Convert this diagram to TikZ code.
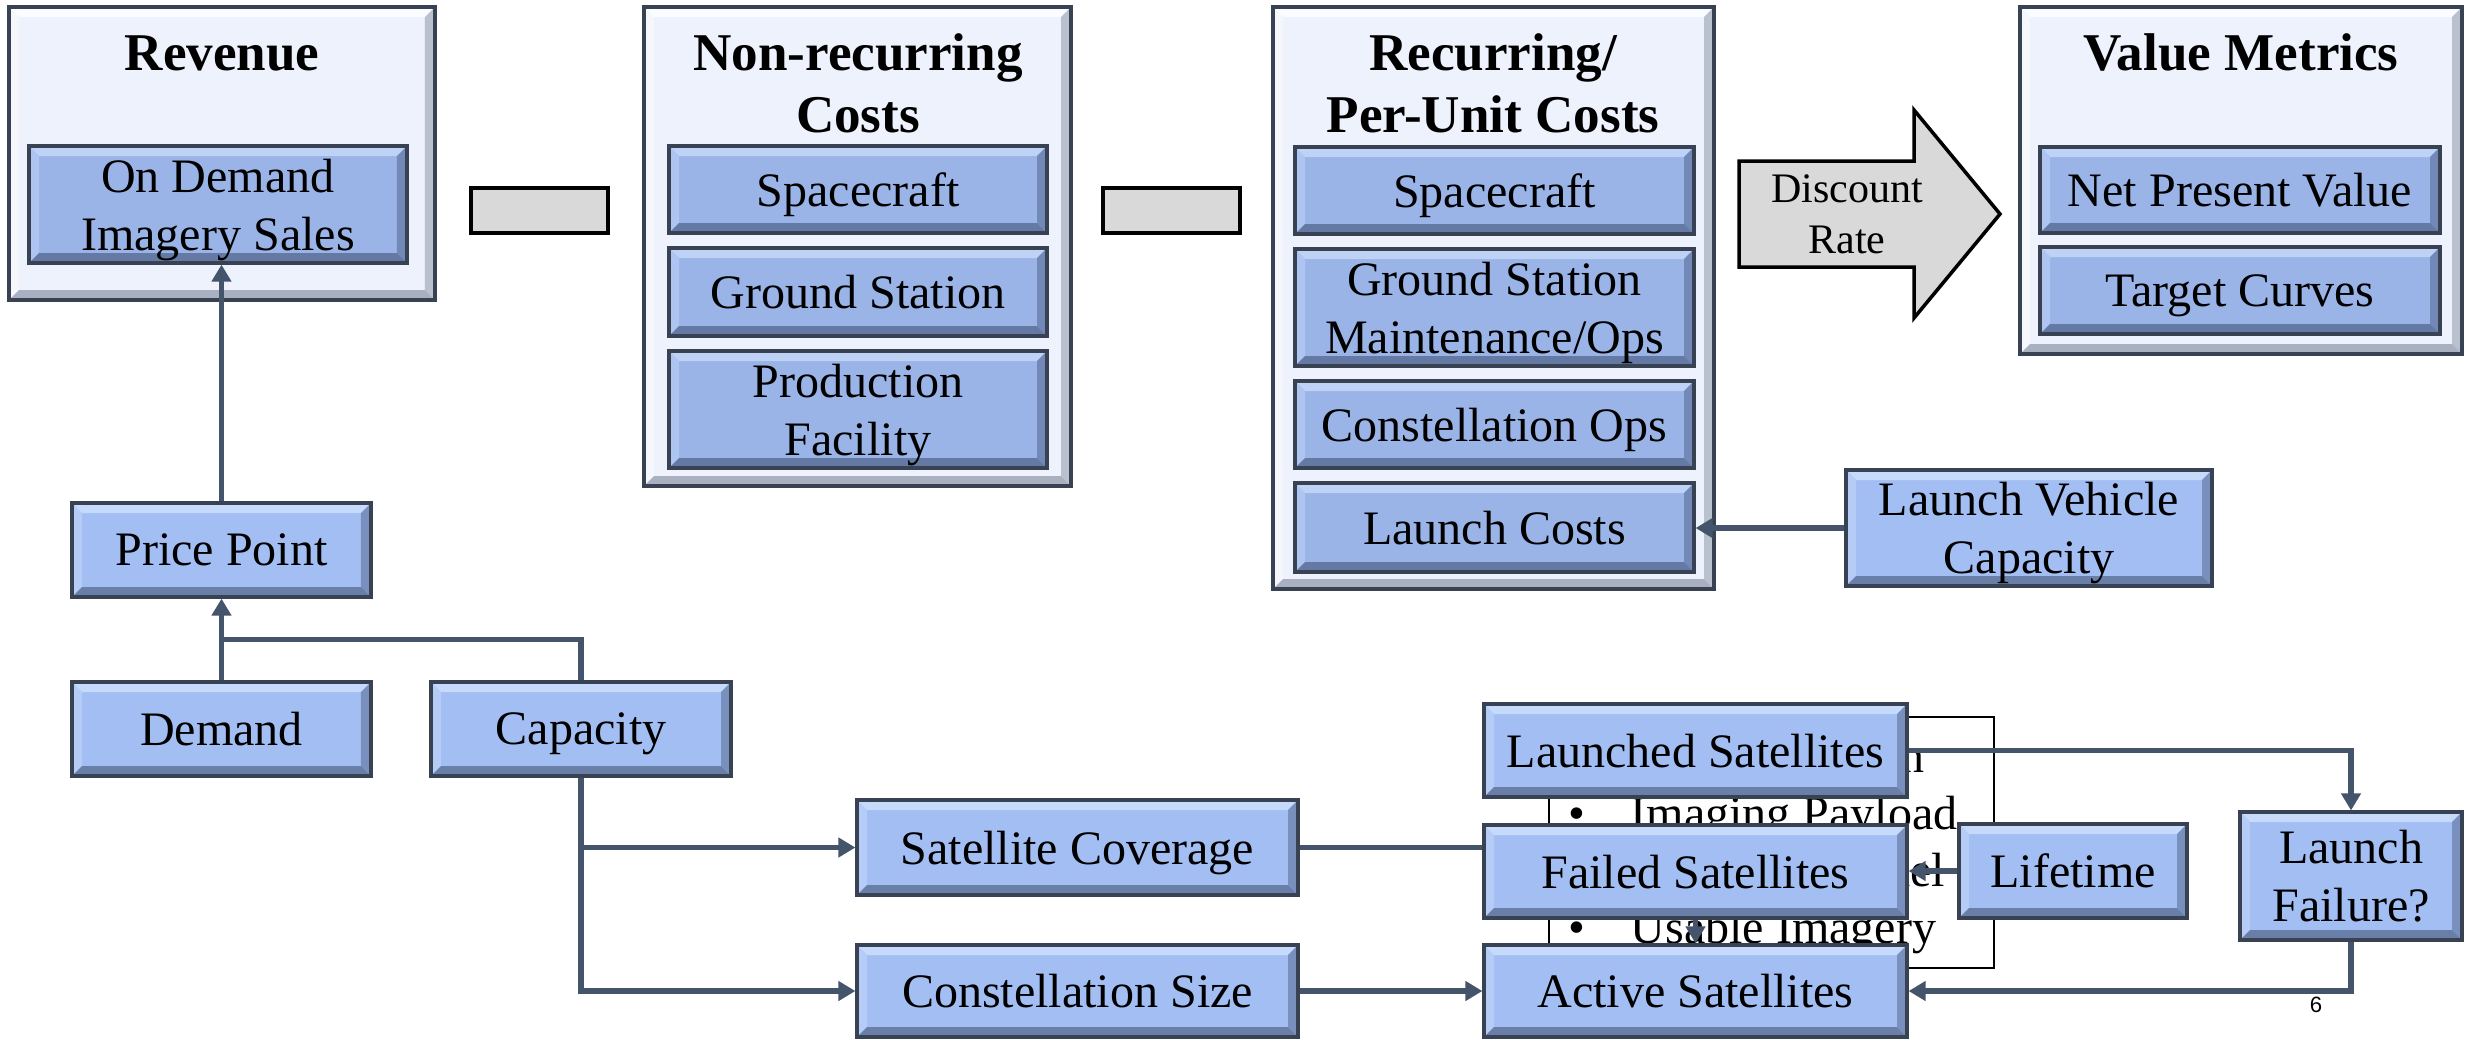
\documentclass[tikz,border=0pt]{standalone}
\usepackage{fontspec}
\setmainfont{Liberation Serif}
\newfontfamily\pagenumfont{Liberation Sans}
\usetikzlibrary{arrows.meta,calc}

\definecolor{rim}{HTML}{394252}
\definecolor{wirecol}{HTML}{44546A}
\definecolor{blockfill}{HTML}{A3BEF2}
\definecolor{nestfill}{HTML}{9AB4E7}
\definecolor{panelfill}{HTML}{EEF2FC}
\definecolor{signfill}{HTML}{D9D9D9}
% bevel faces: top, left, right, bottom
\definecolor{blocktop}{HTML}{C6DAFB}
\definecolor{blockleft}{HTML}{B5CCF6}
\definecolor{blockright}{HTML}{7990BE}
\definecolor{blockbot}{HTML}{6A7FA8}
\definecolor{nesttop}{HTML}{BED2F6}
\definecolor{nestleft}{HTML}{ADC5F0}
\definecolor{nestright}{HTML}{7289B8}
\definecolor{nestbot}{HTML}{6479A3}
\definecolor{paneltop}{HTML}{FBFCFF}
\definecolor{panelleft}{HTML}{F5F7FD}
\definecolor{panelright}{HTML}{B9C0CE}
\definecolor{panelbot}{HTML}{A9B0BF}

\newcommand\boxfont{\fontsize{13.66pt}{16.5pt}\selectfont}
\newcommand\titlefont{\fontsize{15.1pt}{17.6pt}\selectfont\bfseries}
\newcommand\ratefont{\fontsize{11.95pt}{14.5pt}\selectfont}
\def\bevd{0.1cm}

% box placed by its corners (x1,y1) and (x2,y2), in pixel units
\newcommand\placebox[7]{%
  \node[#6, minimum width={(#4-#2)*0.01cm}, minimum height={(#5-#3)*0.01cm}]
    (#1) at ({(#2+#4)/2},{(#3+#5)/2}) {#7};}

\tikzset{
  bevelled/.style n args={4}{path picture={
    \path (path picture bounding box.north west) coordinate (bvnw)
          (path picture bounding box.north east) coordinate (bvne)
          (path picture bounding box.south west) coordinate (bvsw)
          (path picture bounding box.south east) coordinate (bvse);
    \fill[#1] (bvnw) -- (bvne) -- ([shift={(-\bevd,-\bevd)}]bvne) -- ([shift={(\bevd,-\bevd)}]bvnw) -- cycle;
    \fill[#2] (bvnw) -- ([shift={(\bevd,-\bevd)}]bvnw) -- ([shift={(\bevd,\bevd)}]bvsw) -- (bvsw) -- cycle;
    \fill[#3] (bvne) -- ([shift={(-\bevd,-\bevd)}]bvne) -- ([shift={(-\bevd,\bevd)}]bvse) -- (bvse) -- cycle;
    \fill[#4] (bvsw) -- ([shift={(\bevd,\bevd)}]bvsw) -- ([shift={(-\bevd,\bevd)}]bvse) -- (bvse) -- cycle;
  }},
  basebox/.style={rectangle, draw=rim, line width=0.9pt, inner sep=0pt,
    align=center, text depth=0pt, font=\boxfont},
  block/.style={basebox, fill=blockfill, bevelled={blocktop}{blockleft}{blockright}{blockbot}},
  nested/.style={basebox, fill=nestfill, bevelled={nesttop}{nestleft}{nestright}{nestbot}},
  panel/.style={basebox, fill=panelfill, bevelled={paneltop}{panelleft}{panelright}{panelbot}},
  sign/.style={rectangle, draw=black, line width=1pt, fill=signfill, inner sep=0pt},
  titletext/.style={font=\titlefont, inner sep=0pt, anchor=base},
  listtext/.style={font=\boxfont, inner sep=0pt},
  wire/.style={draw=wirecol, line width=1.5pt},
  flow/.style={wire, -{Triangle[length=0.17cm,width=0.19cm]}},
}

\begin{document}
\begin{tikzpicture}[x=0.01cm, y=-0.01cm]
\useasboundingbox (0,0) rectangle (2469,1038);

% group panels
\placebox{rev}{9}{7}{435}{300}{panel}{}
\placebox{nrc}{644}{7}{1071}{486}{panel}{}
\placebox{rc}{1273}{7}{1714}{589}{panel}{}
\placebox{vm}{2020}{7}{2462}{354}{panel}{}

\node[titletext] (revtitle) at (222,70) {Revenue};
\node[titletext] (nrctitleA) at (858,70) {Non-recurring};
\node[titletext] (nrctitleB) at (858,132) {Costs};
\node[titletext] (rctitleA) at (1493,70) {Recurring/};
\node[titletext] (rctitleB) at (1493,132) {Per-Unit Costs};
\node[titletext] (vmtitle) at (2241,70) {Value Metrics};

% items inside the panels
\placebox{ods}{29}{146}{407}{263}{nested}{On Demand\\Imagery Sales}
\placebox{ncsc}{669}{146}{1047}{233}{nested}{Spacecraft}
\placebox{ncgs}{669}{248}{1047}{336}{nested}{Ground Station}
\placebox{ncpf}{669}{351}{1047}{468}{nested}{Production\\Facility}
\placebox{rcsc}{1295}{147}{1694}{234}{nested}{Spacecraft}
\placebox{rcgs}{1295}{249}{1694}{366}{nested}{Ground Station\\Maintenance/Ops}
\placebox{rcco}{1295}{381}{1694}{468}{nested}{Constellation Ops}
\placebox{rclc}{1295}{483}{1694}{572}{nested}{Launch Costs}
\placebox{npv}{2040}{147}{2440}{233}{nested}{Net Present Value}
\placebox{tc}{2040}{247}{2440}{334}{nested}{Target Curves}

% minus signs between the panels
\placebox{minusA}{471}{188}{608}{233}{sign}{}
\placebox{minusB}{1103}{188}{1240}{233}{sign}{}

% discount-rate arrow
\draw[line width=1pt, fill=signfill] (1739,161) -- (1914,161) -- (1914,110) -- (2000,214)
  -- (1914,318) -- (1914,267) -- (1739,267) -- cycle;
\node[font=\ratefont, align=center, inner sep=0pt, anchor=base] (rate) at (1847,253) {Discount\\Rate};

% design list behind the satellite boxes (first and third lines only show their ends)
\placebox{dvbox}{1549}{717}{1994}{968}{draw=black, line width=0.6pt, inner sep=0pt}{}
\node[listtext, anchor=base east] (dvA) at (1925,772) {n};
\node[listtext, anchor=base west] (dvB) at (1568,829) {\makebox[0.62cm][l]{•}Imaging Payload};
\node[listtext, anchor=base east] (dvC) at (1946,886) {del};
\node[listtext, anchor=base west] (dvD) at (1568,943) {\makebox[0.62cm][l]{•}Usable Imagery};

% model blocks
\placebox{lvc}{1846}{470}{2212}{586}{block}{Launch Vehicle\\Capacity}
\placebox{pp}{72}{503}{371}{597}{block}{Price Point}
\placebox{dem}{72}{682}{371}{776}{block}{Demand}
\placebox{cap}{431}{682}{731}{776}{block}{Capacity}
\placebox{sc}{857}{800}{1298}{895}{block}{Satellite Coverage}
\placebox{cs}{857}{945}{1298}{1037}{block}{Constellation Size}
\placebox{ls}{1484}{704}{1907}{797}{block}{Launched Satellites}
\placebox{fs}{1484}{825}{1907}{918}{block}{Failed Satellites}
\placebox{as}{1484}{945}{1907}{1037}{block}{Active Satellites}
\placebox{lt}{1959}{824}{2187}{918}{block}{Lifetime}
\placebox{lf}{2240}{812}{2462}{940}{block}{Launch\\Failure?}

% connectors
\coordinate (jn) at ($(dem.north)!0.5!(pp.south)$);
\draw[flow] (pp.north) -- (pp.north |- ods.south);
\draw[flow] (dem.north) -- (dem.north |- pp.south);
\draw[wire] (cap.north) |- (jn);
\draw[flow] (cap.south) |- (cs.west);
\draw[flow] (cap.south |- sc.west) -- (sc.west);
\draw[wire] (sc.east) -- (sc.east -| fs.west);
\draw[flow] (cs.east) -- (cs.east -| as.west);
\draw[flow] (fs.south) -- (fs.south |- as.north);
\draw[flow] (lt.west) -- (lt.west -| fs.east);
\draw[flow] (ls.east) -| (lf.north);
\draw[flow] (lf.south) |- (as.east);
\draw[flow] (lvc.west) -- (lvc.west -| rclc.east);

\node[font=\pagenumfont\fontsize{6.3pt}{7pt}\selectfont, inner sep=0pt] (pagenum) at (2316,1005) {6};
\end{tikzpicture}
\end{document}
